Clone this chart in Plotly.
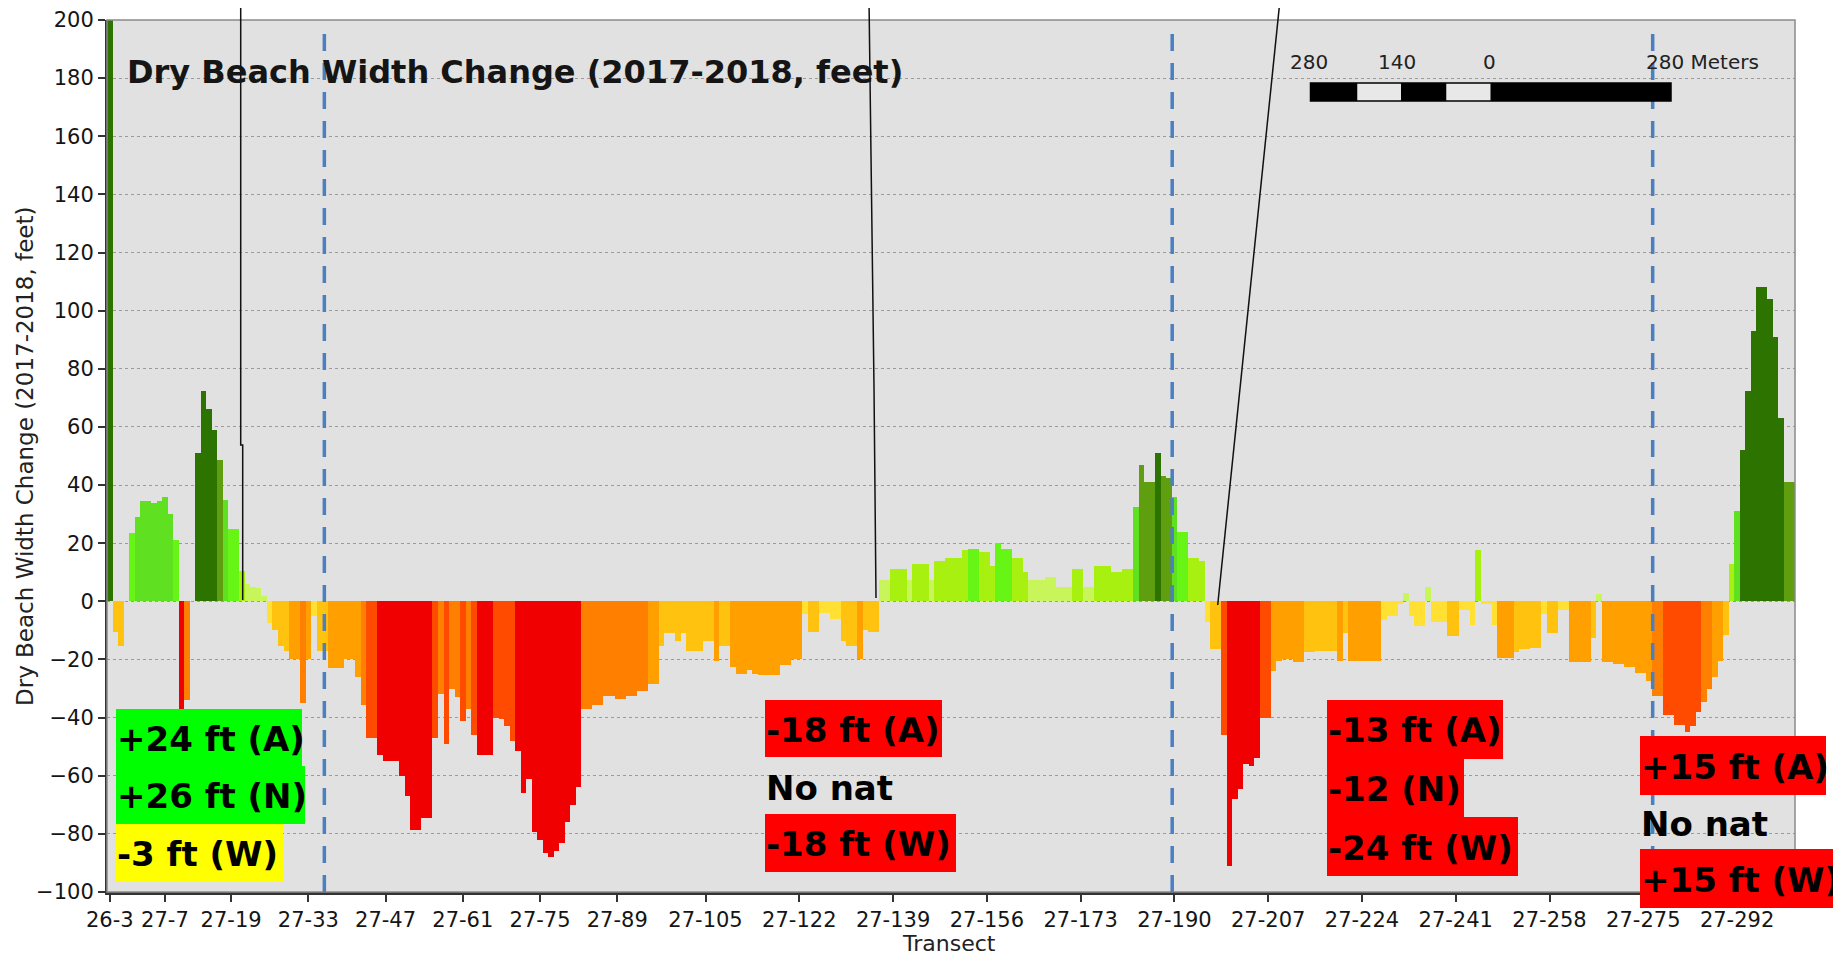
import plotly.graph_objects as go

# Dry beach width change per transect (feet), read left to right
width_change = [
    215, -10.5, -15.5, 0, 23.5, 29, 34.5, 34.5, 34, 34.5,
    36, 30, 21, -55, -34, 0, 51, 72.5, 66, 59,
    48.5, 35, 25, 25, 10.5, 6, 5, 4.5, 2, -7.5,
    -10, -15.5, -17, -20, -20, -35, -20, -5, -17, -17,
    -23, -23, -23, -20, -20, -26, -35.5, -47, -47, -53,
    -55, -55, -55, -60, -67, -78.5, -78.5, -74.5, -74.5, -47,
    -32, -49, -30, -33, -41, -37, -46, -53, -53, -53,
    -40, -40.5, -43, -48, -51.5, -66, -61, -79.5, -82, -86.5,
    -88, -86, -83, -76, -70, -64, -37, -37, -35.5, -35.5,
    -32.5, -32.5, -33.5, -33.5, -32.5, -32.5, -31, -31, -28.5, -28.5,
    -15.5, -11, -11, -13.5, -11, -17, -17, -17, -13.5, -13.5,
    -20.5, -15.5, -15.5, -22.5, -25, -25, -23.5, -25, -25.5, -25.5,
    -25.5, -25.5, -22, -22, -20, -20, -4.5, -10.5, -10.5, -4,
    -4, -6, -6, -13.5, -15.5, -15.5, -20, -10, -10.5, -10.5,
    7.5, 7.5, 11, 11, 11, 7.5, 13, 13, 13, 7.5,
    14, 14, 15, 15, 15, 17.5, 18, 18, 17, 17,
    12, 20, 18, 18, 15, 15, 10, 7.5, 7.5, 7.5,
    8.5, 8.5, 5, 5, 5, 11, 11, 5, 5, 12,
    12, 12, 10, 10, 11, 11, 32.5, 47, 41, 41,
    51, 43, 42.5, 36, 24, 24, 15, 15, 14, -7,
    -16.5, -16.5, -46, -91, -68, -64.5, -56, -56.5, -54, -40,
    -40, -24, -20.5, -20, -20, -21, -21, -17.5, -17.5, -17,
    -17, -17, -17, -20.5, -11, -20.5, -20.5, -20.5, -20.5, -20.5,
    -20.5, -6.5, -5, -5, -1, 3, -5, -8.5, -8.5, 5,
    -7, -7, -7, -12, -12, -3, -3, -8, 17.5, -1,
    -1, -8, -19.5, -19.5, -19.5, -17.5, -16.5, -16.5, -16, -16,
    -4.5, -11, -11, -3, -3, -21, -21, -21, -21, -12.5,
    2.5, -21, -21, -21.5, -21.5, -22.5, -22.5, -24.5, -24.5, -27.5,
    -32.5, -32.5, -39, -39, -42.5, -42.5, -45, -43, -38, -34.5,
    -30, -26, -20.5, -11.5, 13, 31, 52, 72.5, 93, 108,
    108, 104, 91, 63, 41, 41,
]
bar_index = list(range(len(width_change)))

tick_labels = ["26-3", "27-7", "27-19", "27-33", "27-47", "27-61", "27-75", "27-89",
               "27-105", "27-122", "27-139", "27-156", "27-173", "27-190", "27-207",
               "27-224", "27-241", "27-258", "27-275", "27-292"]
tick_index = [0, 10, 22, 36, 50, 64, 78, 92, 108, 125, 142, 159, 176, 193, 210,
              227, 244, 261, 278, 295]

# reach boundaries (dashed) in bar-index units
reach_breaks = [38.9, 192.6, 279.7]

scale_labels = ["280", "140", "0", "280 Meters"]

left_notes = ["+24 ft (A)", "+26 ft (N)", "-3 ft (W)"]
mid_notes = ["-18 ft (A)", "No nat", "-18 ft (W)"]
right_mid_notes = ["-13 ft (A)", "-12 (N)", "-24 ft (W)"]
right_notes = ["+15 ft (A)", "No nat", "+15 ft (W)"]


def bar_color(v):
    if v >= 50:
        return "#2d7300"
    if v >= 38:
        return "#5f9e0f"
    if v >= 28:
        return "#5fe020"
    if v >= 18:
        return "#66f514"
    if v >= 9:
        return "#a8f010"
    if v >= 0:
        return "#c8f55a"
    if v > -9:
        return "#ffe033"
    if v > -18:
        return "#ffc20e"
    if v > -30:
        return "#ffa000"
    if v > -38:
        return "#ff7f00"
    if v > -50:
        return "#ff4b00"
    return "#f00000"


# plot area in page pixels (page has an 8px body margin)
L, R, T, B = 107, 1795, 20, 892
OFF = 8
FIG_W, FIG_H = 1841 - OFF, 956 - OFF


def px(x):
    return (x - L) / (R - L)


def py(y):
    return (B - y) / (B - T)


fig = go.Figure()
fig.add_trace(go.Bar(
    x=bar_index, y=width_change,
    marker=dict(color=[bar_color(v) for v in width_change], line=dict(width=0)),
    width=1.0, showlegend=False, hoverinfo="x+y",
))

shapes = []
# plot frame
shapes.append(dict(type="rect", xref="paper", yref="paper", x0=0, x1=1, y0=0, y1=1,
                   line=dict(color="#8a8a8a", width=1.5), layer="above"))

# reach breaks
for xb in reach_breaks:
    shapes.append(dict(type="line", xref="x", yref="paper", x0=xb, x1=xb, y0=0, y1=py(26),
                       line=dict(color="#4a7fc1", width=3.5, dash="17px,12px"), layer="above"))

# map leader lines
leaders = [
    [(240.7, 0), (240.7, 445), (242.7, 445), (242.7, 600)],
    [(869, 0), (874, 387), (876, 598)],
    [(1280, 0), (1217.7, 605)],
]
for pts in leaders:
    path = "M " + " L ".join(f"{px(a):.5f},{py(b):.5f}" for a, b in pts)
    shapes.append(dict(type="path", xref="paper", yref="paper", path=path,
                       line=dict(color="#111111", width=1.5), layer="above"))

# scale bar
seg_edges = [1310.5, 1357.5, 1401, 1446.5, 1490.5, 1671]
seg_fill = ["black", "#e8e8e8", "black", "#e8e8e8", "black"]
for i, f in enumerate(seg_fill):
    shapes.append(dict(type="rect", xref="paper", yref="paper",
                       x0=px(seg_edges[i]), x1=px(seg_edges[i + 1]), y0=py(101), y1=py(83),
                       fillcolor=f, line=dict(width=0), layer="above"))
shapes.append(dict(type="rect", xref="paper", yref="paper",
                   x0=px(1310.5), x1=px(1671), y0=py(101), y1=py(83),
                   line=dict(color="black", width=1.5), layer="above"))

annotations = []
scale_x = [1309, 1397, 1489, 1644]
for i, lab in enumerate(scale_labels):
    annotations.append(dict(xref="paper", yref="paper", x=px(scale_x[i]), y=py(62),
                            text=lab, showarrow=False,
                            xanchor="left" if i == 3 else "center", yanchor="middle",
                            font=dict(family="DejaVu Sans", size=20, color="#222222")))

note_font = dict(family="DejaVu Sans", size=34, color="black")


def add_note(text, x0, x1, y0, y1, fill):
    if fill:
        shapes.append(dict(type="rect", xref="paper", yref="paper",
                           x0=px(x0), x1=px(x1), y0=py(y1), y1=py(y0),
                           fillcolor=fill, line=dict(width=0), layer="above"))
    annotations.append(dict(xref="paper", yref="paper", x=px(x0 - 1), y=py((y0 + y1) / 2 + 1),
                            text=f"<b>{text}</b>", showarrow=False,
                            xanchor="left", yanchor="middle", font=note_font))


add_note(left_notes[0], 116, 302, 709, 766, "#00ff00")
add_note(left_notes[1], 116, 305, 766, 824, "#00ff00")
add_note(left_notes[2], 116, 283, 824, 882, "#ffff00")

add_note(mid_notes[0], 765, 942, 700, 757, "#ff0000")
add_note(mid_notes[1], 765, 940, 760, 814, None)
add_note(mid_notes[2], 765, 956, 814, 872, "#ff0000")

add_note(right_mid_notes[0], 1327, 1503, 700, 759, "#ff0000")
add_note(right_mid_notes[1], 1327, 1464, 759, 817, "#ff0000")
add_note(right_mid_notes[2], 1327, 1518, 817, 876, "#ff0000")

add_note(right_notes[0], 1640, 1826, 736, 795, "#ff0000")
add_note(right_notes[1], 1640, 1820, 798, 848, None)
add_note(right_notes[2], 1640, 1838, 849, 908, "#ff0000")

# chart title inside plot
annotations.append(dict(xref="paper", yref="paper", x=px(125), y=py(72),
                        text="<b>Dry Beach Width Change (2017-2018, feet)</b>", showarrow=False,
                        xanchor="left", yanchor="middle",
                        font=dict(family="DejaVu Sans", size=32, color="#151515")))
# axis titles
annotations.append(dict(xref="paper", yref="paper", x=px(25), y=py(456),
                        text="Dry Beach Width Change (2017-2018, feet)", showarrow=False,
                        textangle=-90, xanchor="center", yanchor="middle",
                        font=dict(family="DejaVu Sans", size=23, color="#222222")))
annotations.append(dict(xref="paper", yref="paper", x=px(949), y=py(943),
                        text="Transect", showarrow=False, xanchor="center", yanchor="middle",
                        font=dict(family="DejaVu Sans", size=22, color="#222222")))

axis_font = dict(family="DejaVu Sans", size=21, color="#151515")
fig.update_layout(
    width=FIG_W, height=FIG_H,
    margin=dict(l=L - OFF, r=FIG_W + OFF - R, t=T - OFF, b=FIG_H + OFF - B),
    paper_bgcolor="white", plot_bgcolor="#e1e1e1",
    bargap=0, shapes=shapes, annotations=annotations,
    xaxis=dict(range=[-0.5, len(width_change) - 0.5], tickmode="array",
               tickvals=tick_index, ticktext=tick_labels, tickangle=0, automargin=False,
               ticks="outside", ticklen=7, tickwidth=1.5, tickcolor="#333333",
               showgrid=False, zeroline=False, showline=True, linecolor="#333333", linewidth=2.5,
               tickfont=axis_font),
    yaxis=dict(range=[-100, 200], dtick=20, tick0=0, automargin=False,
               ticks="outside", ticklen=7, tickwidth=1.5, tickcolor="#333333",
               showgrid=True, gridcolor="#9a9a9a", griddash="dot", gridwidth=1,
               zeroline=False, showline=True, linecolor="#333333", linewidth=2,
               tickfont=axis_font),
)

fig.write_html("out.html")
